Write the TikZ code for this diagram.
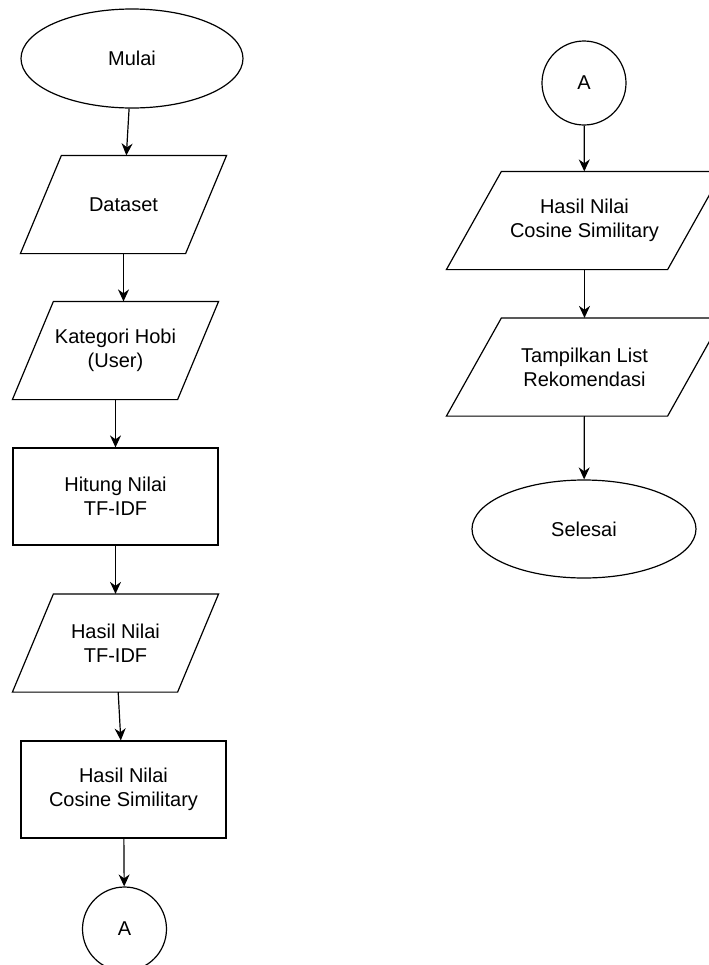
\documentclass[tikz,border=0pt]{standalone}
\usepackage{fontspec}
\setmainfont{Liberation Sans}
\usetikzlibrary{shapes.geometric,arrows.meta}

% parallelogram drawn round a named rectangle node: name, half of the slant
\newcommand{\ioframe}[2]{\draw [line width=0.9pt] ([xshift=#2]#1.north west) -- ([xshift=#2]#1.north east) -- ([xshift=-#2]#1.south east) -- ([xshift=-#2]#1.south west) -- cycle;}

\begin{document}
\begin{tikzpicture}[x=0.75pt,y=0.75pt,yscale=-1,xscale=1,
  every node/.style={font=\fontsize{15}{18}\selectfont, align=center, line width=0.9pt},
  terminal/.style={draw, ellipse, inner sep=0pt},
  process/.style={draw, rectangle, minimum width=153.75pt, minimum height=72.75pt, inner sep=0pt},
  datain/.style={rectangle, minimum width=123pt, minimum height=72.75pt, inner sep=0pt},
  wideio/.style={datain, minimum width=165pt},
  connector/.style={draw, circle, minimum size=63pt, inner sep=0pt},
  flow/.style={-{Stealth[length=9pt,width=8.25pt]}, line width=0.9pt}]
%set diagram left start at 0, width 709, height 965
\useasboundingbox (0,0) rectangle (709,965);
\clip (0,0) rectangle (709,965);

%Shape: Ellipse
\node [terminal, minimum width=166.5pt, minimum height=74.25pt] (mulai) at (132,58.5) {Mulai};
%Shape: Parallelogram
\node [datain] (dataset) at (123.5,204.5) {Dataset};
\ioframe{dataset}{15.375pt}
%Shape: Parallelogram
\node [datain] (kategori) at (115.5,350.5) {Kategori Hobi\\(User)};
\ioframe{kategori}{15.375pt}
%Shape: Rectangle
\node [process] (hitung) at (115.5,496.5) {Hitung Nilai\\TF-IDF};
%Shape: Parallelogram
\node [datain] (hasiltfidf) at (115.5,643) {Hasil Nilai\\TF-IDF};
\ioframe{hasiltfidf}{15.375pt}
%Shape: Rectangle
\node [process] (cosine) at (123.5,789.5) {Hasil Nilai\\Cosine Similitary};
%Shape: Circle
\node [connector] (konA) at (124.5,929) {A};

%Shape: Circle
\node [connector] (konB) at (584,83) {A};
%Shape: Parallelogram
\node [wideio] (hasilcos) at (584.5,220.5) {Hasil Nilai\\Cosine Similitary};
\ioframe{hasilcos}{20.625pt}
%Shape: Parallelogram
\node [wideio] (tampil) at (584.5,367) {Tampilkan List\\Rekomendasi};
\ioframe{tampil}{20.625pt}
%Shape: Ellipse
\node [terminal, minimum width=168pt, minimum height=73.5pt] (selesai) at (584,529) {Selesai};

%Straight Lines
\draw [flow] (mulai) -- (dataset);
\draw [flow] (dataset.south) -- (dataset.south |- kategori.north);
\draw [flow] (kategori) -- (hitung);
\draw [flow] (hitung) -- (hasiltfidf);
\draw [flow] (hasiltfidf) -- (cosine);
\draw [flow] (cosine) -- (konA);
%Straight Lines
\draw [flow] (konB) -- (hasilcos);
\draw [flow] (hasilcos) -- (tampil);
\draw [flow] (tampil) -- (selesai);

\end{tikzpicture}
\end{document}
